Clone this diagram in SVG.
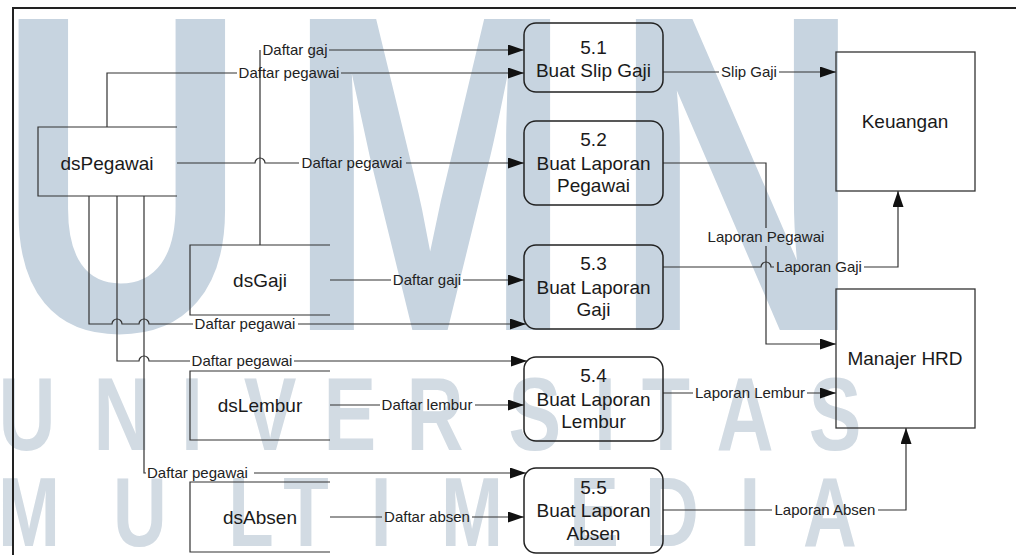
<svg xmlns="http://www.w3.org/2000/svg" width="1016" height="555" viewBox="0 0 1016 555">
<style>
.wm{font-family:"Liberation Sans",Arial,sans-serif;font-weight:bold;text-anchor:middle}
.ln{fill:none;stroke:#333;stroke-width:1.2}
.lbl{font-family:"Liberation Sans",Arial,sans-serif;font-size:15px;fill:#222;text-anchor:middle}
.nt{font-family:"Liberation Sans",Arial,sans-serif;font-size:19px;fill:#1a1a1a;text-anchor:middle}
.proc{fill:none;stroke:#222;stroke-width:1.5}
.store{fill:none;stroke:#333;stroke-width:1.2}
.ent{fill:none;stroke:#333;stroke-width:1.3}
</style>
<defs>
<marker id="ah" markerWidth="16" markerHeight="11" refX="16" refY="5.5" orient="auto" markerUnits="userSpaceOnUse"><path d="M0,0 L16,5.5 L0,11 z" fill="#111"/></marker>
</defs>
<rect x="0" y="0" width="1016" height="555" fill="#fff"/>
<g id="watermark" transform="scale(0.76,1)">
<text class="wm" font-size="452" fill="#c7d4e0" x="160.5 565.8 969.7" y="330">UMN</text>
<text class="wm" font-size="104" fill="#d2dbe3" x="35.5 160.5 252.6 355.3 460.5 572.4 703.9 796 876.3 980.3 1098.7" y="450">UNIVERSITAS</text>
<text class="wm" font-size="98" fill="#d2dbe3" x="38.2 184.2 330.3 402.6 501.3 621 781.6 884.2 986.8 1092.1" y="546">MULTIMEDIA</text>
</g>
<path d="M13,555 V8 H1016" fill="none" stroke="#222" stroke-width="2"/>
<g id="connectors">
<path class="ln" d="M260,245 V50 M329,50 H524" marker-end="url(#ah)"/>
<text class="lbl" x="295" y="55">Daftar gaj</text>
<path class="ln" d="M107,127 V73 H237 M341,73 H524" marker-end="url(#ah)"/>
<text class="lbl" x="289" y="78">Daftar pegawai</text>
<path class="ln" d="M177,163 H255 A5,5 0 0 1 265,163 H299 M406,163 H524" marker-end="url(#ah)"/>
<text class="lbl" x="352" y="168">Daftar pegawai</text>
<path class="ln" d="M330,280 H391 M463,280 H524" marker-end="url(#ah)"/>
<text class="lbl" x="427" y="285">Daftar gaji</text>
<path class="ln" d="M330,405 H380 M475,405 H524" marker-end="url(#ah)"/>
<text class="lbl" x="427" y="410">Daftar lembur</text>
<path class="ln" d="M330,517 H382 M472,517 H524" marker-end="url(#ah)"/>
<text class="lbl" x="427" y="522">Daftar absen</text>
<path class="ln" d="M89,196 V324 H112 A5,5 0 0 1 122,324 H139 A5,5 0 0 1 149,324 H193 M298,324 H526" marker-end="url(#ah)"/>
<text class="lbl" x="245" y="329">Daftar pegawai</text>
<path class="ln" d="M117,196 V361 H139 A5,5 0 0 1 149,361 H190 M294,361 H527" marker-end="url(#ah)"/>
<text class="lbl" x="242" y="366">Daftar pegawai</text>
<path class="ln" d="M144,196 V473 H146 M254,473 H526" marker-end="url(#ah)"/>
<text class="lbl" x="147" y="478" style="text-anchor:start">Daftar pegawai</text>
<path class="ln" d="M663,72 H719 M779,72 H836" marker-end="url(#ah)"/>
<text class="lbl" x="749" y="77">Slip Gaji</text>
<path class="ln" d="M663,163 H766 V228 M766,246 V344 H836" marker-end="url(#ah)"/>
<text class="lbl" x="766" y="242">Laporan Pegawai</text>
<path class="ln" d="M663,267 H761 A5,5 0 0 1 771,267 H774 M864,267 H898 V191" marker-end="url(#ah)"/>
<text class="lbl" x="819" y="272">Laporan Gaji</text>
<path class="ln" d="M663,393 H693 M807,393 H836" marker-end="url(#ah)"/>
<text class="lbl" x="750" y="398">Laporan Lembur</text>
<path class="ln" d="M663,510 H772 M878,510 H906 V428" marker-end="url(#ah)"/>
<text class="lbl" x="825" y="515">Laporan Absen</text>
</g>
<g id="dsPegawai">
<path class="store" d="M177,127 H38 V196 H177"/>
<text class="nt" x="107" y="170">dsPegawai</text>
</g>
<g id="dsGaji">
<path class="store" d="M330,245 H190 V315 H330"/>
<text class="nt" x="260" y="287">dsGaji</text>
</g>
<g id="dsLembur">
<path class="store" d="M330,371 H190 V440 H330"/>
<text class="nt" x="260" y="412">dsLembur</text>
</g>
<g id="dsAbsen">
<path class="store" d="M330,482 H190 V552 H330"/>
<text class="nt" x="260" y="524">dsAbsen</text>
</g>
<g id="p51">
<rect class="proc" x="524" y="23" width="139" height="69" rx="12"/>
<text class="nt"><tspan x="593.5" y="54">5.1</tspan><tspan x="593.5" y="77">Buat Slip Gaji</tspan></text>
</g>
<g id="p52">
<rect class="proc" x="524" y="121" width="139" height="84" rx="12"/>
<text class="nt"><tspan x="593.5" y="146">5.2</tspan><tspan x="593.5" y="170">Buat Laporan</tspan><tspan x="593.5" y="192">Pegawai</tspan></text>
</g>
<g id="p53">
<rect class="proc" x="524" y="245" width="139" height="84" rx="12"/>
<text class="nt"><tspan x="593.5" y="270">5.3</tspan><tspan x="593.5" y="294">Buat Laporan</tspan><tspan x="593.5" y="316">Gaji</tspan></text>
</g>
<g id="p54">
<rect class="proc" x="524" y="357" width="139" height="84" rx="12"/>
<text class="nt"><tspan x="593.5" y="382">5.4</tspan><tspan x="593.5" y="406">Buat Laporan</tspan><tspan x="593.5" y="428">Lembur</tspan></text>
</g>
<g id="p55">
<rect class="proc" x="524" y="468" width="139" height="85" rx="12"/>
<text class="nt"><tspan x="593.5" y="494">5.5</tspan><tspan x="593.5" y="517">Buat Laporan</tspan><tspan x="593.5" y="540">Absen</tspan></text>
</g>
<g id="keuangan">
<rect class="ent" x="836" y="52" width="139" height="139"/>
<text class="nt" x="905" y="128">Keuangan</text>
</g>
<g id="manajer">
<rect class="ent" x="836" y="289" width="139" height="139"/>
<text class="nt" x="905" y="365">Manajer HRD</text>
</g>
</svg>
